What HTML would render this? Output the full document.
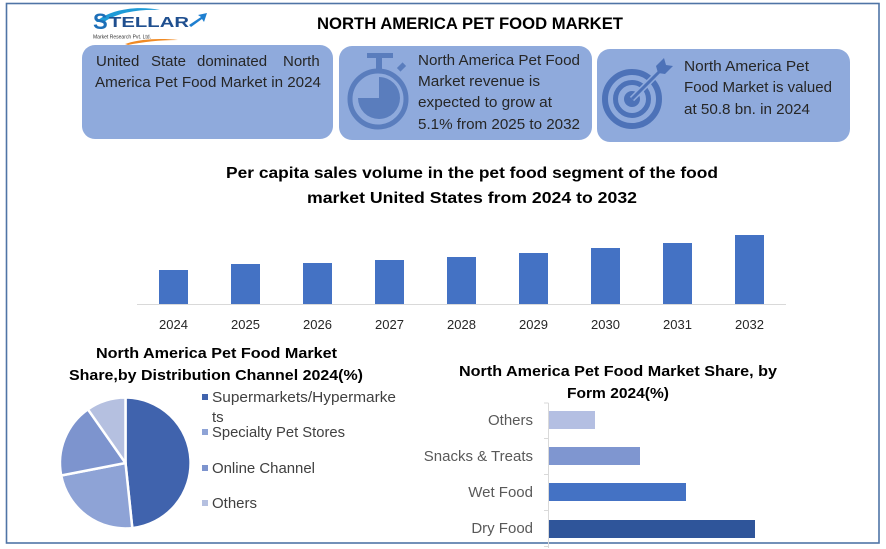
<!DOCTYPE html>
<html><head><meta charset="utf-8"><style>
html,body{margin:0;padding:0;background:#fff;}
svg{display:block;}
text{font-family:"Liberation Sans",sans-serif;}
</style></head><body>
<svg width="886" height="549" viewBox="0 0 886 549" xmlns="http://www.w3.org/2000/svg">
<rect x="0" y="0" width="886" height="549" fill="#fff"/>
<rect x="6.5" y="3.5" width="872.5" height="539.5" fill="none" stroke="#4f74a6" stroke-width="1.6"/>

<!-- Logo -->
<path d="M96,22 C110,8 140,6 160,10 C140,9 118,12 104,22 Z" fill="#1e9bd7"/>
<text x="93" y="29" font-size="22" font-weight="bold" fill="#1d6fb8">S</text>
<text x="109" y="27" font-size="15" font-weight="bold" fill="#1f4f8f" textLength="80" lengthAdjust="spacingAndGlyphs">TELLAR</text>
<path d="M189,25 L201,17 L198,15 L207,13 L204,22 L202,19 L191,27 Z" fill="#1e7fd0"/>
<text x="93" y="38.5" font-size="5" fill="#333" textLength="58" lengthAdjust="spacingAndGlyphs">Market Research Pvt. Ltd.</text>
<path d="M125,44 C140,39 160,38 178,40 C160,40 142,42 128,45 Z" fill="#f08a24"/>

<!-- Title -->
<text x="317" y="29" font-size="17" font-weight="bold" fill="#000" textLength="306" lengthAdjust="spacingAndGlyphs">NORTH AMERICA PET FOOD MARKET</text>

<!-- Boxes -->
<rect x="82" y="45" width="251" height="94" rx="13" fill="#8faadc"/>
<rect x="339" y="46" width="253" height="94" rx="13" fill="#8faadc"/>
<rect x="597" y="49" width="253" height="93" rx="13" fill="#8faadc"/>

<g font-size="15" fill="#262626">
<text x="96" y="66">United</text>
<text x="151" y="66">State</text>
<text x="197" y="66">dominated</text>
<text x="283" y="66">North</text>
<text x="95" y="87" textLength="226" lengthAdjust="spacingAndGlyphs">America Pet Food Market in 2024</text>

<text x="418" y="65" textLength="162" lengthAdjust="spacingAndGlyphs">North America Pet Food</text>
<text x="418" y="86" textLength="122" lengthAdjust="spacingAndGlyphs">Market revenue is</text>
<text x="418" y="107" textLength="134" lengthAdjust="spacingAndGlyphs">expected to grow at</text>
<text x="418" y="129" textLength="162" lengthAdjust="spacingAndGlyphs">5.1% from 2025 to 2032</text>

<text x="684" y="71" textLength="125" lengthAdjust="spacingAndGlyphs">North America Pet</text>
<text x="684" y="92" textLength="148" lengthAdjust="spacingAndGlyphs">Food Market is valued</text>
<text x="684" y="114" textLength="126" lengthAdjust="spacingAndGlyphs">at 50.8 bn. in 2024</text>
</g>

<!-- Stopwatch icon -->
<g fill="#5a7dbd">
<rect x="367" y="53" width="26" height="5"/>
<rect x="376" y="57" width="6" height="14"/>
<rect x="399" y="63" width="5" height="8" transform="rotate(45 401.5 67)"/>
<circle cx="378" cy="99" r="28" fill="none" stroke="#5a7dbd" stroke-width="5"/>
<path d="M379,98 L379,77 A21,21 0 1 1 358,98 Z"/>
</g>

<!-- Target icon -->
<g>
<circle cx="632" cy="99" r="27" fill="none" stroke="#4d72b8" stroke-width="6"/>
<circle cx="632" cy="99" r="16.5" fill="none" stroke="#4d72b8" stroke-width="5"/>
<circle cx="632" cy="99" r="8" fill="#4d72b8"/>
<line x1="632" y1="99" x2="662" y2="69" stroke="#8faadc" stroke-width="6"/>
<line x1="632" y1="99" x2="662" y2="69" stroke="#4d72b8" stroke-width="3"/>
<path d="M656,66 L664,58 L666,65 L673,66 L665,74 L658,73 Z" fill="#4d72b8"/>
</g>

<!-- Bar chart title -->
<text x="226" y="178" font-size="16" font-weight="bold" fill="#000" textLength="492" lengthAdjust="spacingAndGlyphs">Per capita sales volume in the pet food segment of the food</text>
<text x="307" y="203" font-size="16" font-weight="bold" fill="#000" textLength="330" lengthAdjust="spacingAndGlyphs">market United States from 2024 to 2032</text>

<!-- Bars -->
<g fill="#4472c4">
<rect x="159" y="270" width="29" height="34"/>
<rect x="231" y="264" width="29" height="40"/>
<rect x="303" y="263" width="29" height="41"/>
<rect x="375" y="260" width="29" height="44"/>
<rect x="447" y="257" width="29" height="47"/>
<rect x="519" y="253" width="29" height="51"/>
<rect x="591" y="248" width="29" height="56"/>
<rect x="663" y="243" width="29" height="61"/>
<rect x="735" y="235" width="29" height="69"/>
</g>
<line x1="137" y1="304.5" x2="786" y2="304.5" stroke="#d9d9d9" stroke-width="1"/>
<g font-size="13" fill="#262626" text-anchor="middle">
<text x="173.5" y="329">2024</text>
<text x="245.5" y="329">2025</text>
<text x="317.5" y="329">2026</text>
<text x="389.5" y="329">2027</text>
<text x="461.5" y="329">2028</text>
<text x="533.5" y="329">2029</text>
<text x="605.5" y="329">2030</text>
<text x="677.5" y="329">2031</text>
<text x="749.5" y="329">2032</text>
</g>

<!-- Pie title -->
<text x="96" y="358" font-size="15" font-weight="bold" fill="#000" textLength="241" lengthAdjust="spacingAndGlyphs">North America Pet Food Market</text>
<text x="69" y="380" font-size="15" font-weight="bold" fill="#000" textLength="294" lengthAdjust="spacingAndGlyphs">Share,by Distribution Channel 2024(%)</text>

<!-- Pie -->
<g stroke="#fff" stroke-width="2.5" stroke-linejoin="round">
<path d="M125.5,463 L125.5,397.5 A65.5,65.5 0 0 1 132.3,528.1 Z" fill="#4063ad"/>
<path d="M125.5,463 L132.3,528.1 A65.5,65.5 0 0 1 61.2,475.5 Z" fill="#8ea3d6"/>
<path d="M125.5,463 L61.2,475.5 A65.5,65.5 0 0 1 87.9,409.3 Z" fill="#7d94ce"/>
<path d="M125.5,463 L87.9,409.3 A65.5,65.5 0 0 1 125.5,397.5 Z" fill="#b5c0e0"/>
</g>

<!-- Pie legend -->
<rect x="202" y="394" width="6" height="6" fill="#4063ad"/>
<rect x="202" y="429" width="6" height="6" fill="#8ea3d6"/>
<rect x="202" y="465" width="6" height="6" fill="#7d94ce"/>
<rect x="202" y="500" width="6" height="6" fill="#b5c0e0"/>
<g font-size="15" fill="#404040">
<text x="212" y="402" textLength="184" lengthAdjust="spacingAndGlyphs">Supermarkets/Hypermarke</text>
<text x="212" y="422">ts</text>
<text x="212" y="437" textLength="133" lengthAdjust="spacingAndGlyphs">Specialty Pet Stores</text>
<text x="212" y="473" textLength="103" lengthAdjust="spacingAndGlyphs">Online Channel</text>
<text x="212" y="508" textLength="45" lengthAdjust="spacingAndGlyphs">Others</text>
</g>

<!-- Right chart title -->
<text x="459" y="376" font-size="15" font-weight="bold" fill="#000" textLength="318" lengthAdjust="spacingAndGlyphs">North America Pet Food Market Share, by</text>
<text x="567" y="398" font-size="15" font-weight="bold" fill="#000" textLength="102" lengthAdjust="spacingAndGlyphs">Form 2024(%)</text>

<!-- Horizontal bars -->
<rect x="549" y="411" width="46" height="18" fill="#b4bfe2"/>
<rect x="549" y="447" width="91" height="18" fill="#7f96d0"/>
<rect x="549" y="483" width="137" height="18" fill="#4472c4"/>
<rect x="549" y="520" width="206" height="18" fill="#2f559a"/>
<g stroke="#d9d9d9" stroke-width="1">
<line x1="548.5" y1="403" x2="548.5" y2="548"/>
<line x1="544" y1="403" x2="548.5" y2="403"/>
<line x1="544" y1="438.5" x2="548.5" y2="438.5"/>
<line x1="544" y1="474.5" x2="548.5" y2="474.5"/>
<line x1="544" y1="510.5" x2="548.5" y2="510.5"/>
<line x1="544" y1="546.5" x2="548.5" y2="546.5"/>
</g>
<g font-size="15" fill="#595959" text-anchor="end">
<text x="533" y="425">Others</text>
<text x="533" y="461">Snacks &amp; Treats</text>
<text x="533" y="497">Wet Food</text>
<text x="533" y="533">Dry Food</text>
</g>
</svg>
</body></html>
